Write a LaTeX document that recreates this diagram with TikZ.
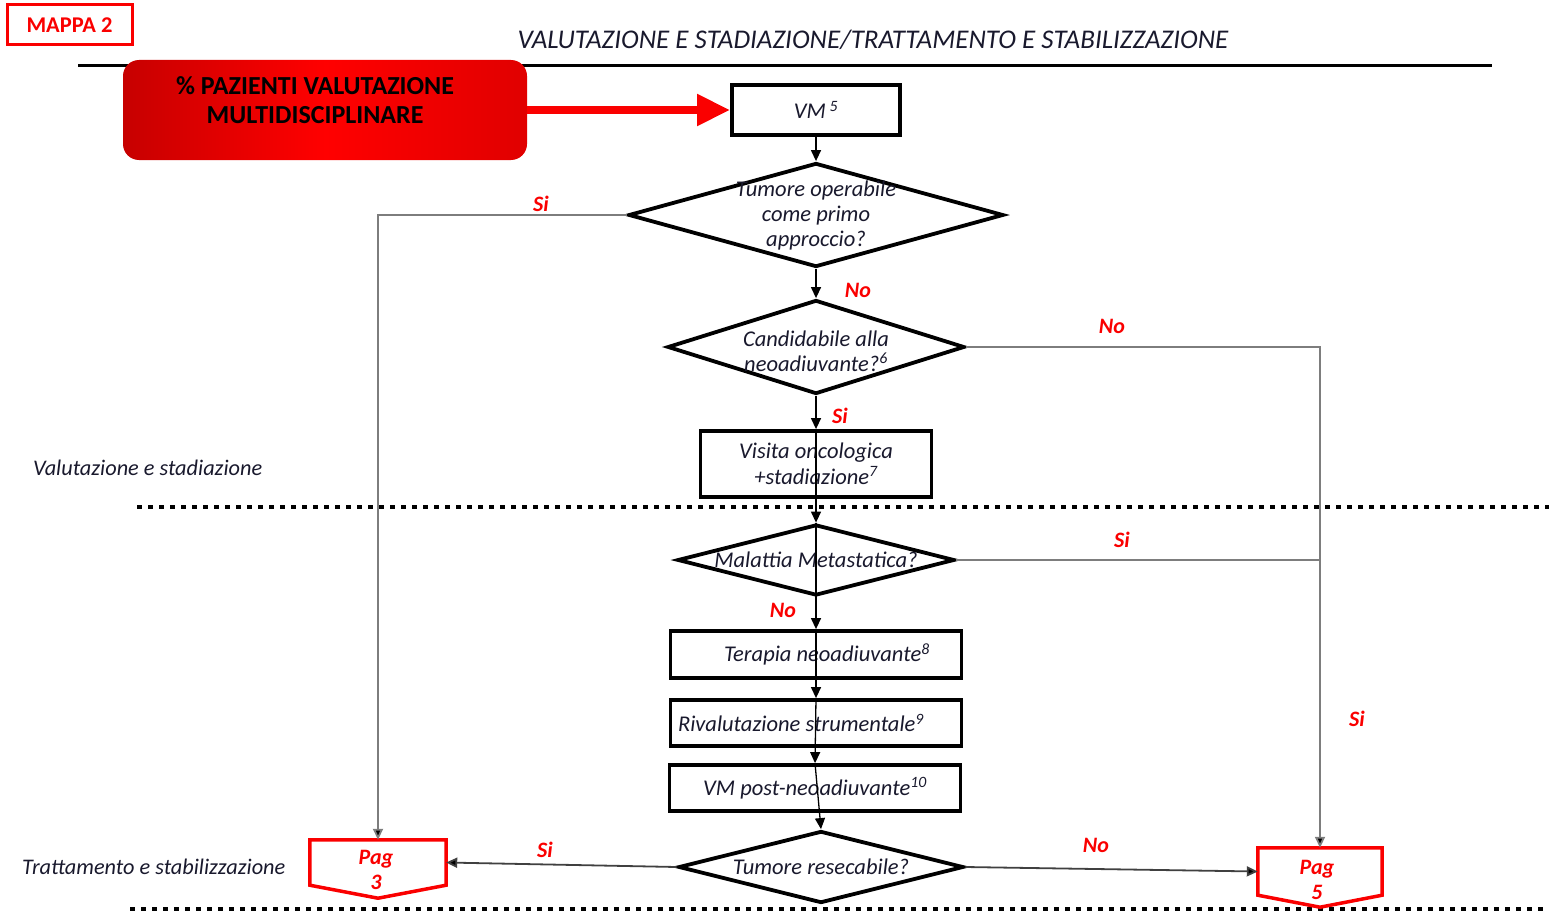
\documentclass[tikz,border=0pt]{standalone}
\usepackage{fontspec}
\setmainfont{Carlito}
\usetikzlibrary{arrows.meta,shapes.geometric,calc}
\definecolor{ink}{RGB}{25,25,45}
\definecolor{wire}{RGB}{125,125,125}
\definecolor{alert}{RGB}{250,0,0}
\begin{document}
\begin{tikzpicture}[x=1pt,y=-1pt,
  txt/.style={font=\itshape\fontsize{22.5}{25}\selectfont, text=ink, align=center, inner sep=0pt},
  sidetxt/.style={font=\itshape\fontsize{22.3}{25}\selectfont, text=ink, anchor=west, inner sep=0pt},
  stepbox/.style={draw=black, line width=3.8pt, fill=white, inner sep=0pt, align=center,
    font=\itshape\fontsize{22.5}{25.5}\selectfont, text=ink},
  dia/.style={diamond, draw=black, line width=3.8pt, fill=white, inner sep=0pt},
  flow/.style={draw=black, line width=1.3pt, -{Triangle[length=11pt,width=10pt]}},
  side/.style={draw=wire, line width=1.8pt},
  sidearrow/.style={side, -{Triangle[length=11pt,width=10pt,fill=black]}},
  yesno/.style={font=\bfseries\itshape\fontsize{22}{24}\selectfont, text=alert, inner sep=0pt},
  pagframe/.style={inner sep=0pt},
  pagline/.style={draw=alert, line width=3.5pt, fill=white, line join=miter},
  pagtext/.style={font=\bfseries\itshape\fontsize{22}{25}\selectfont, text=alert, align=center, inner sep=0pt},
  dotline/.style={line width=4.5pt, dash pattern=on 4.5pt off 6.5pt, black},
]
\useasboundingbox (0,0) rectangle (1549,915);

% header
\node[draw=alert, line width=3pt, minimum width=125pt, minimum height=40pt, inner sep=0pt,
  text=alert, font=\bfseries\fontsize{22.5}{24}\selectfont] (mappa) at (69.5,25) {MAPPA 2};
\node[font=\itshape\fontsize{27}{30}\selectfont, text=ink, inner sep=0pt] (title) at (873,40)
  {VALUTAZIONE E STADIAZIONE/TRATTAMENTO E STABILIZZAZIONE};
\draw[line width=3pt] (78,66) -- (1492,66);

% indicator box and its arrow
\node[rounded corners=16pt, minimum width=404pt, minimum height=100pt, inner sep=0pt,
  left color=red!78!black, right color=red!88!black, middle color=red] (kpi) at (325,110) {};
\node[align=center, font=\bfseries\fontsize{26}{29}\selectfont, text=black, inner sep=0pt]
  (kpit) at (315,100) {\% PAZIENTI VALUTAZIONE\\MULTIDISCIPLINARE};

% section labels
\node[sidetxt] (lab1) at (33,468) {Valutazione e stadiazione};
\node[sidetxt] (lab2) at (22,867) {Trattamento e stabilizzazione};

% separators
\draw[dotline] (137,507) -- (1549,507);
\draw[dotline] (130,909) -- (1549,909);

% flow nodes
\node[stepbox, minimum width=168pt, minimum height=50pt] (vm) at (816,110) {VM\,\textsuperscript{5}};
\node[dia, minimum width=375pt, minimum height=104pt] (d1) at (816,215) {};
\node[txt] (d1t) at (816,215) {Tumore operabile\\come primo\\approccio?};
\node[dia, minimum width=297pt, minimum height=94pt] (d2) at (816,347) {};
\node[txt] (d2t) at (816,351) {Candidabile alla\\neoadiuvante?\textsuperscript{6}};
\node[stepbox, minimum width=231pt, minimum height=66pt] (visita) at (816,464)
  {Visita oncologica\\+stadiazione\textsuperscript{7}};
\node[dia, minimum width=277pt, minimum height=71pt] (d3) at (816,560) {};
\node[txt] (d3t) at (816,560) {Malattia Metastatica?};
\node[stepbox, minimum width=291pt, minimum height=47pt] (terapia) at (816,654.5)
  {\hspace*{22pt}Terapia neoadiuvante\textsuperscript{8}};
\node[stepbox, minimum width=291pt, minimum height=46pt] (rival) at (816,723)
  {Rivalutazione strumentale\textsuperscript{9}\hspace*{30pt}};
\node[stepbox, minimum width=291pt, minimum height=46pt] (vmpost) at (815,788)
  {VM post-neoadiuvante\textsuperscript{10}};
\node[dia, minimum width=285pt, minimum height=72pt] (d4) at (821,867) {};
\node[txt] (d4t) at (821,867) {Tumore resecabile?};

% off-page connectors
\node[pagframe, minimum width=136pt, minimum height=45pt] (pag3) at (378,862.5) {};
\draw[pagline] (pag3.north west) -- (pag3.north east) -- (pag3.south east)
  -- ($(pag3.south)+(0,13)$) -- (pag3.south west) -- cycle;
\node[pagtext] (pag3t) at (376,870) {Pag\\3};
\node[pagframe, minimum width=124pt, minimum height=47pt] (pag5) at (1320,871.5) {};
\draw[pagline] (pag5.north west) -- (pag5.north east) -- (pag5.south east)
  -- ($(pag5.south)+(0,12)$) -- (pag5.south west) -- cycle;
\node[pagtext] (pag5t) at (1317,879.5) {Pag\\5};

% connectors
\draw[line width=8pt, alert, -{Triangle[length=33pt,width=30pt]}] (kpi.east) -- (vm.west);
\draw[flow] (vm.south) -- (d1.north);
\draw[flow] (d1.south) -- (d2.north);
\draw[flow] (d2.south) -- (visita.north);
\draw[flow] (visita.north) -- (d3.north);
\draw[flow] (d3.north) -- (terapia.north);
\draw[flow] (terapia.north) -- (rival.north);
\draw[flow] (rival.north) -- (vmpost.north);
\draw[flow] (vmpost.north) -- (d4.north);

\draw[sidearrow] (d1.west) -| (pag3.north);
\draw[sidearrow] (d2.east) -| (pag5.north);
\draw[side] (d3.east) -- (d3.east -| pag5.north);
\draw[sidearrow, draw=black!75] (d4.west) -- (pag3.east);
\draw[sidearrow, draw=black!75] (d4.east) -- (pag5.west);

% answers
\node[yesno] (a1) at (541,204) {Si};
\node[yesno] (a2) at (858,290) {No};
\node[yesno] (a3) at (1112,326) {No};
\node[yesno] (a4) at (840,416) {Si};
\node[yesno] (a5) at (1122,540) {Si};
\node[yesno] (a6) at (783,610) {No};
\node[yesno] (a7) at (1357,719) {Si};
\node[yesno] (a8) at (545,850) {Si};
\node[yesno] (a9) at (1096,845) {No};
\end{tikzpicture}
\end{document}
